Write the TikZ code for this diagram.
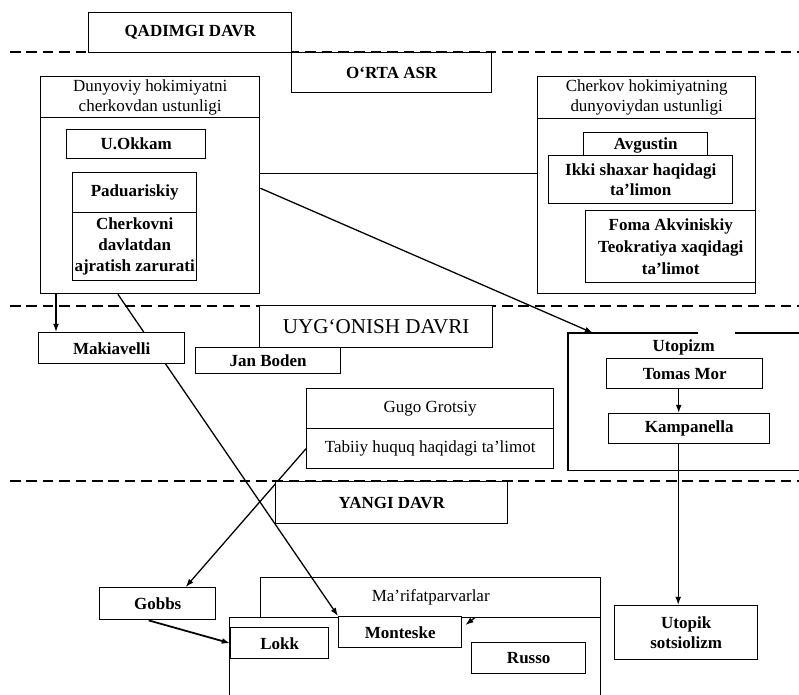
\documentclass[tikz,border=0pt]{standalone}
\usepackage{fontspec}
\setmainfont{Liberation Serif}
\usepackage{tikz}
\usetikzlibrary{calc, positioning, arrows.meta, backgrounds}

\tikzset{
  box/.style={draw, fill=white, line width=1.2pt, anchor=north west, align=center,
    inner sep=1pt, font=\fontsize{14.5}{17}\selectfont\bfseries},
  head/.style={box, font=\fontsize{14.5}{17}\selectfont},
  lbl/.style={font=\fontsize{14.5}{17}\selectfont\bfseries},
  period/.style={line width=1.5pt, dash pattern=on 9pt off 5pt},
  link/.style={line width=1.1pt, -{Latex[length=7pt, width=5pt]}},
}

\begin{document}
\begin{tikzpicture}[x=0.03cm, y=-0.03cm]
    \useasboundingbox (0,0) rectangle (799,695);

    % Davrlar chegaralari
    \draw[period] (10,52) -- (799,52);
    \draw[period] (10,306) -- (799,306);
    \draw[period] (10,481) -- (799,481);

    % Qadimgi davr va O'rta asr
    \node[box, minimum width=6.09cm, minimum height=1.2cm] (qadim) at (88,12) {QADIMGI DAVR};
    \node[box, minimum width=6cm, minimum height=1.2cm] (orta) at (291,52) {O‘RTA ASR};

    % Dunyoviy hokimiyat
    \node[head, minimum width=6.57cm, minimum height=1.23cm] (dunhead) at (40,76) {Dunyoviy hokimiyatni\\cherkovdan ustunligi};
    \node[box, minimum width=6.57cm, minimum height=5.28cm] (dunbody) at (40,117) {};
    \node[box, minimum width=4.17cm, minimum height=0.87cm] (okkam) at (66,129) {U.Okkam};
    \node[box, minimum width=3.72cm, minimum height=1.2cm] (padua) at (72,172) {Paduariskiy};
    \node[box, minimum width=3.72cm, minimum height=2.04cm, font=\fontsize{14.5}{18}\selectfont\bfseries] (ajrat) at (72,212) {Cherkovni\\davlatdan\\ajratish zarurati};

    % Cherkov hokimiyati
    \node[head, minimum width=6.54cm, minimum height=1.26cm] (cerhead) at (537,76) {Cherkov hokimiyatning\\dunyoviydan ustunligi};
    \node[box, minimum width=6.54cm, minimum height=5.25cm] (cerbody) at (537,118) {};
    \node[box, minimum width=3.72cm, minimum height=0.78cm] (avg) at (583,132) {Avgustin};
    \node[box, minimum width=5.52cm, minimum height=1.44cm] (ikki) at (548,155) {Ikki shaxar haqidagi\\ta’limon};
    \node[box, minimum width=5.1cm, minimum height=2.16cm, font=\fontsize{14.5}{19}\selectfont\bfseries] (foma) at (585,210) {Foma Akviniskiy\\Teokratiya xaqidagi\\ta’limot};

    % Uyg'onish davri
    \node[box, minimum width=4.35cm, minimum height=0.78cm] (jan) at (195,347) {Jan Boden};
    \node[box, font=\fontsize{18}{20}\selectfont, minimum width=6.99cm, minimum height=1.26cm] (uyg) at (259,305) {UYG‘ONISH DAVRI};
    \node[box, minimum width=4.38cm, minimum height=0.93cm] (mak) at (38,332) {Makiavelli};
    \node[head, minimum width=7.41cm, minimum height=1.2cm] (gugo) at (306,388) {Gugo Grotsiy};
    \node[head, minimum width=7.41cm, minimum height=1.2cm] (tabiiy) at (306,428) {Tabiiy huquq haqidagi ta’limot};

    % Utopizm
    \node[anchor=north west, minimum width=6.93cm, minimum height=4.11cm] (utop) at (568,333) {};
    \draw[line width=1.2pt] ($(utop.north west)+(130,0)$) -| (utop.south west) -- (utop.south east);
    \draw[line width=1.2pt] (utop.north east) -- ($(utop.north west)+(167,0)$);
    \node[lbl] (utoptxt) at ($(utop.north)+(0,14)$) {Utopizm};
    \node[box, minimum width=4.68cm, minimum height=0.9cm] (tomas) at (606,358) {Tomas Mor};
    \node[box, minimum width=4.83cm, minimum height=0.9cm] (kamp) at (608,413) {Kampanella};

    % Yangi davr
    \node[box, minimum width=6.96cm, minimum height=1.26cm] (yangi) at (275,481) {YANGI DAVR};
    \node[box, minimum width=3.48cm, minimum height=0.96cm] (gobbs) at (99,587) {Gobbs};
    \node[head, fill=none, minimum width=10.2cm, minimum height=1.2cm] (marhead) at (260,577) {Ma’rifatparvarlar};
    \node[box, fill=none, minimum width=11.13cm, minimum height=2.46cm] (marbody) at (229,617) {};
    \node[box, minimum width=2.94cm, minimum height=0.93cm] (lokk) at (230,627) {Lokk};
    \node[box, minimum width=3.69cm, minimum height=0.93cm] (mont) at (338,616) {Monteske};
    \node[box, minimum width=3.42cm, minimum height=0.93cm] (russo) at (471,642) {Russo};
    \node[box, minimum width=4.29cm, minimum height=1.62cm] (utsots) at (614,605) {Utopik\\sotsiolizm};

    % Bog'lanishlar
    \coordinate (utin) at ($(utop.north west)+(25,0)$);
    \coordinate (m1) at ($(mak.north west)+(18,0)$);
    \coordinate (m2) at ($(dunbody.south west)+(78,0)$);
    \coordinate (t1) at ($(tomas.south)+(-6,0)$);
    \coordinate (k1) at ($(kamp.south)+(-11,0)$);
    \begin{scope}[on background layer]
        \draw[line width=1.1pt] (ikki.176) -- (ikki.176 -| dunbody.east);
        \draw[link] (dunbody.9) -- (utin);
        \draw[link] (m1 |- dunbody.south) -- (m1);
        \draw[link] (m2) -- (mont.north west);
        \draw[link] ($(ikki.south west)+(24,2)$) -- ($(foma.west)+(-3,-8)$);
        \draw[link] (t1) -- (t1 |- kamp.north);
        \draw[link] (k1) -- (k1 |- utsots.north);
        \draw[link] (tabiiy.west) -- ($(gobbs.north)+(28,0)$);
        \draw[link, line width=1.5pt] ($(gobbs.south)+(-9,0)$) -- (lokk.west);
        \draw[link] ($(mont.north east)+(12,2)$) -- ($(mont.north east)+(3,9)$);
    \end{scope}
\end{tikzpicture}
\end{document}
